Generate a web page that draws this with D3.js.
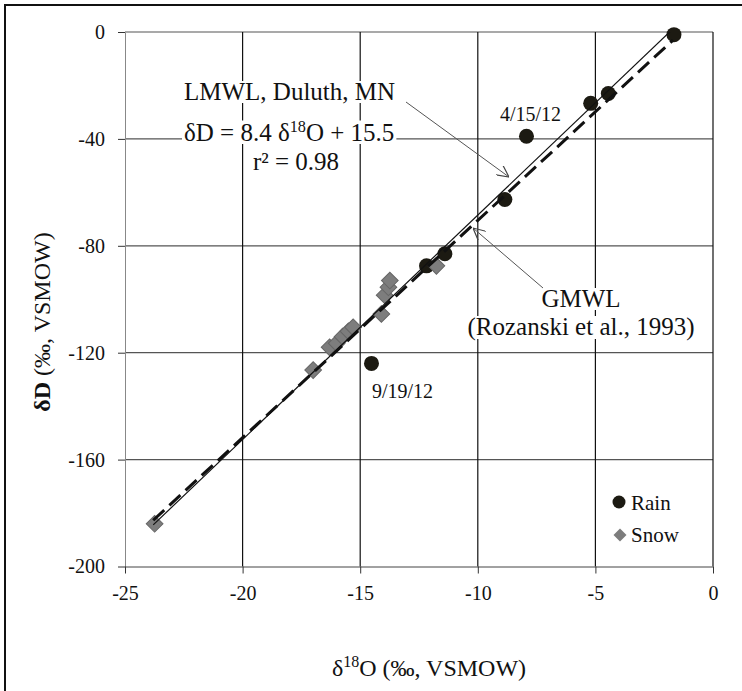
<!DOCTYPE html>
<html>
<head>
<meta charset="utf-8">
<script src="https://cdn.jsdelivr.net/npm/d3@7"></script>
<style>
  body { margin: 0; background: #fff; }
  svg text { font-family: "Liberation Serif", "DejaVu Serif", serif; }
</style>
</head>
<body>
<svg id="chart" width="742" height="691"></svg>
<script>
// rain samples: d18O, dD
var rainO = [-1.66, -4.45, -5.2, -7.93, -8.85, -11.4, -12.18, -14.52];
var rainD = [-1, -23, -26.7, -39, -62.7, -83, -87.5, -124];
// snow samples
var snowO = [-23.74, -17.0, -16.3, -16.0, -15.75, -15.5, -15.3, -14.1, -13.96, -13.8, -13.74, -11.76];
var snowD = [-184, -126.5, -118, -116.5, -114, -112, -110.5, -105.5, -98.5, -95.5, -93, -87.5];
var xTicks = [-25, -20, -15, -10, -5, 0];
var yTicks = [0, -40, -80, -120, -160, -200];
// meteoric water lines (slope, intercept, x range)
var lmwl = [8.4, 15.5, -23.8, -1.6];
var gmwl = [8.13, 10.8, -23.8, -1.7];

var svg = d3.select("#chart");
var pLeft = 125, pRight = 713, pTop = 32, pBottom = 566.5;
var serif = "Liberation Serif, DejaVu Serif, serif";

var x = d3.scaleLinear().domain([-25, 0]).range([pLeft, pRight]);
var y = d3.scaleLinear().domain([-200, 0]).range([pBottom, pTop]);

// outer frame
svg.append("rect").attr("x", 5).attr("y", 5).attr("width", 800).attr("height", 800)
  .attr("fill", "none").attr("stroke", "#111").attr("stroke-width", 2);

// grid
svg.selectAll(".hg").data(yTicks.filter(function(d) { return d > -200; })).enter()
  .append("line").attr("x1", pLeft).attr("x2", pRight)
  .attr("y1", function(d) { return y(d); }).attr("y2", function(d) { return y(d); })
  .attr("stroke", "#555").attr("stroke-width", 1.2);
svg.selectAll(".vg").data(xTicks.filter(function(d) { return d > -25; })).enter()
  .append("line").attr("y1", pTop).attr("y2", pBottom)
  .attr("x1", function(d) { return x(d); }).attr("x2", function(d) { return x(d); })
  .attr("stroke", "#111").attr("stroke-width", 1.2);

// axes
var fmt = function(d) { return String(d); };
var yAxis = svg.append("g").attr("transform", "translate(" + pLeft + ",0)")
  .call(d3.axisLeft(y).tickValues(yTicks).tickSize(7).tickSizeOuter(0).tickPadding(13).tickFormat(fmt));
var xAxis = svg.append("g").attr("transform", "translate(0," + pBottom + ")")
  .call(d3.axisBottom(x).tickValues(xTicks).tickSize(7).tickSizeOuter(0).tickPadding(12).tickFormat(fmt));
[yAxis, xAxis].forEach(function(a) {
  a.attr("font-family", serif);
  a.select(".domain").attr("stroke", "#888");
  a.selectAll(".tick line").attr("stroke", "#333");
  a.selectAll("text").attr("font-size", 20).attr("fill", "#111");
});
xAxis.select(".domain").attr("stroke", "#444");

var boxLayer = svg.append("g");
var markLayer = svg.append("g");
var textLayer = svg.append("g").attr("font-family", serif);

// white boxes behind annotation lines
function whiteText(tx, ty, anchor, size, parts) {
  var t = textLayer.append("text").attr("x", tx).attr("y", ty).attr("text-anchor", anchor)
    .attr("font-size", size).attr("fill", "#111");
  parts.forEach(function(p) {
    var s = t.append("tspan").text(p[0]);
    if (p[1] == "sup") s.attr("font-size", size * 0.65).attr("dy", -size * 0.38);
    if (p[1] == "back") s.attr("dy", size * 0.38);
  });
  var b = t.node().getBBox();
  boxLayer.append("rect").attr("x", b.x - 2).attr("y", b.y + 3).attr("width", b.width + 4)
    .attr("height", b.height - 5).attr("fill", "#fff");
  return t;
}

// points
markLayer.selectAll(".rain").data(rainO).enter().append("circle")
  .attr("cx", function(d) { return x(d); })
  .attr("cy", function(d, i) { return y(rainD[i]); })
  .attr("r", 7.5).attr("fill", "#1c1a12");
var diamond = d3.symbol().type(d3.symbolSquare).size(140);
markLayer.selectAll(".snow").data(snowO).enter().append("path")
  .attr("d", diamond)
  .attr("transform", function(d, i) { return "translate(" + x(d) + "," + y(snowD[i]) + ") rotate(45)"; })
  .attr("fill", "#7d7d7d").attr("stroke", "#666").attr("stroke-width", 1);

// water lines
function mwl(p) {
  return [[x(p[2]), y(p[0] * p[2] + p[1])], [x(p[3]), y(p[0] * p[3] + p[1])]];
}
svg.append("clipPath").attr("id", "plotclip").append("rect")
  .attr("x", pLeft).attr("y", pTop).attr("width", pRight - pLeft).attr("height", pBottom - pTop);
markLayer.append("path").attr("d", d3.line()(mwl(lmwl))).attr("clip-path", "url(#plotclip)")
  .attr("stroke", "#111").attr("stroke-width", 1.2).attr("fill", "none");
markLayer.append("path").attr("d", d3.line()(mwl(gmwl)))
  .attr("stroke", "#111").attr("stroke-width", 3).attr("stroke-dasharray", "15,7").attr("fill", "none");

// annotations
whiteText(184, 100, "start", 25, [["LMWL, Duluth, MN"]]);
whiteText(184, 141, "start", 25, [["\u03b4D = 8.4 \u03b4"], ["18", "sup"], ["O + 15.5", "back"]]);
whiteText(296, 170, "middle", 25, [["r\u00b2 = 0.98"]]);
whiteText(581, 307, "middle", 25, [["GMWL"]]);
whiteText(581, 335, "middle", 25, [["(Rozanski et al., 1993)"]]);

textLayer.append("text").attr("x", x(-7.93) + 4).attr("y", 121).attr("text-anchor", "middle")
  .attr("font-size", 20).attr("fill", "#111").text("4/15/12");
textLayer.append("text").attr("x", 372).attr("y", 398)
  .attr("font-size", 20).attr("fill", "#111").text("9/19/12");

// arrows
svg.append("defs").append("marker").attr("id", "arr").attr("viewBox", "0 0 10 10")
  .attr("refX", 10).attr("refY", 5).attr("markerWidth", 12).attr("markerHeight", 12)
  .attr("markerUnits", "userSpaceOnUse").attr("orient", "auto")
  .append("path").attr("d", "M0,0 L10,5 L0,10").attr("fill", "none").attr("stroke", "#444").attr("stroke-width", 1);
textLayer.append("line").attr("x1", 406).attr("y1", 102).attr("x2", 509).attr("y2", 177)
  .attr("stroke", "#555").attr("stroke-width", 1).attr("marker-end", "url(#arr)");
textLayer.append("line").attr("x1", 543).attr("y1", 288).attr("x2", 473).attr("y2", 228)
  .attr("stroke", "#555").attr("stroke-width", 1).attr("marker-end", "url(#arr)");

// legend
textLayer.append("circle").attr("cx", 619).attr("cy", 502).attr("r", 6.5).attr("fill", "#1c1a12");
textLayer.append("path").attr("d", d3.symbol().type(d3.symbolSquare).size(85))
  .attr("transform", "translate(620,535) rotate(45)").attr("fill", "#7d7d7d");
textLayer.append("text").attr("x", 631).attr("y", 510).attr("font-size", 21).attr("fill", "#111").text("Rain");
textLayer.append("text").attr("x", 631).attr("y", 542).attr("font-size", 21).attr("fill", "#111").text("Snow");

// axis titles
var yl = textLayer.append("text").attr("transform", "translate(50,322) rotate(-90)")
  .attr("text-anchor", "middle").attr("font-size", 24).attr("fill", "#111");
yl.append("tspan").attr("font-weight", "bold").text("\u03b4D");
yl.append("tspan").text(" (\u2030, VSMOW)");
var xl = textLayer.append("text").attr("x", 429).attr("y", 676).attr("text-anchor", "middle")
  .attr("font-size", 24).attr("fill", "#111");
xl.append("tspan").text("\u03b4");
xl.append("tspan").attr("font-size", 16).attr("dy", -9).text("18");
xl.append("tspan").attr("dy", 9).text("O (\u2030, VSMOW)");
</script>
</body>
</html>
